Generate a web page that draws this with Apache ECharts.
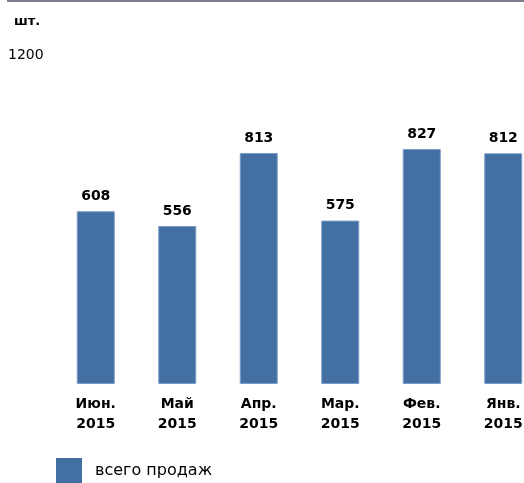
<!DOCTYPE html>
<html>
<head>
<meta charset="utf-8">
<script src="https://cdn.jsdelivr.net/npm/echarts@6/dist/echarts.min.js"></script>
<style>
  html, body { margin: 0; padding: 0; background: #fff; overflow: hidden; }
  /* график шире окна: последний столбец обрезается справа, как в оригинале */
  #chart { width: 560px; height: 483px; }
</style>
</head>
<body>
<div id="chart"></div>
<script>
  // месяцы (подписи оси X)
  var months = ['Июн.\n2015', 'Май\n2015', 'Апр.\n2015', 'Мар.\n2015', 'Фев.\n2015', 'Янв.\n2015'];
  // всего продаж, шт.
  var sales = [608, 556, 813, 575, 827, 812];
  var yMax = 1200;

  var font = '"DejaVu Sans", sans-serif';
  var chart = echarts.init(document.getElementById('chart'));
  chart.setOption({
    animation: false,
    backgroundColor: '#fff',
    graphic: [
      // верхняя линия
      { type: 'rect', left: 7, top: 0, shape: { width: 560, height: 2 }, style: { fill: '#7d8090' } },
      { type: 'text', left: 14, top: 15, style: { text: 'шт.', font: 'bold 13px ' + font, fill: '#000' } }
    ],
    legend: {
      left: 56,
      top: 458,
      padding: 0,
      icon: 'rect',
      itemWidth: 26,
      itemHeight: 25,
      itemStyle: { borderWidth: 0 },
      textStyle: { fontFamily: font, fontSize: 16, color: '#000', padding: [2, 0, 0, 8] },
      data: ['всего продаж']
    },
    grid: { left: 55, top: 43, width: 489, height: 341, containLabel: false },
    xAxis: {
      type: 'category',
      data: months,
      axisLine: { show: false },
      axisTick: { show: false },
      axisLabel: {
        interval: 0,
        margin: 10,
        fontFamily: font,
        fontWeight: 'bold',
        fontSize: 14,
        lineHeight: 20,
        color: '#000'
      }
    },
    yAxis: {
      type: 'value',
      min: 0,
      max: yMax,
      interval: yMax,
      axisLine: { show: false },
      axisTick: { show: false },
      splitLine: { show: false },
      axisLabel: {
        align: 'left',
        verticalAlign: 'top',
        margin: 47,
        padding: [5, 0, 0, 0],
        fontFamily: font,
        fontSize: 14,
        color: '#000',
        formatter: function (v) { return v === yMax ? String(v) : ''; }
      }
    },
    series: [{
      name: 'всего продаж',
      type: 'bar',
      data: sales,
      barWidth: 38,
      itemStyle: { color: '#436fa3', borderColor: '#7b9cc6', borderWidth: 1 },
      label: {
        show: true,
        position: 'top',
        distance: 8,
        fontFamily: font,
        fontWeight: 'bold',
        fontSize: 14,
        color: '#000'
      }
    }]
  });
</script>
</body>
</html>
